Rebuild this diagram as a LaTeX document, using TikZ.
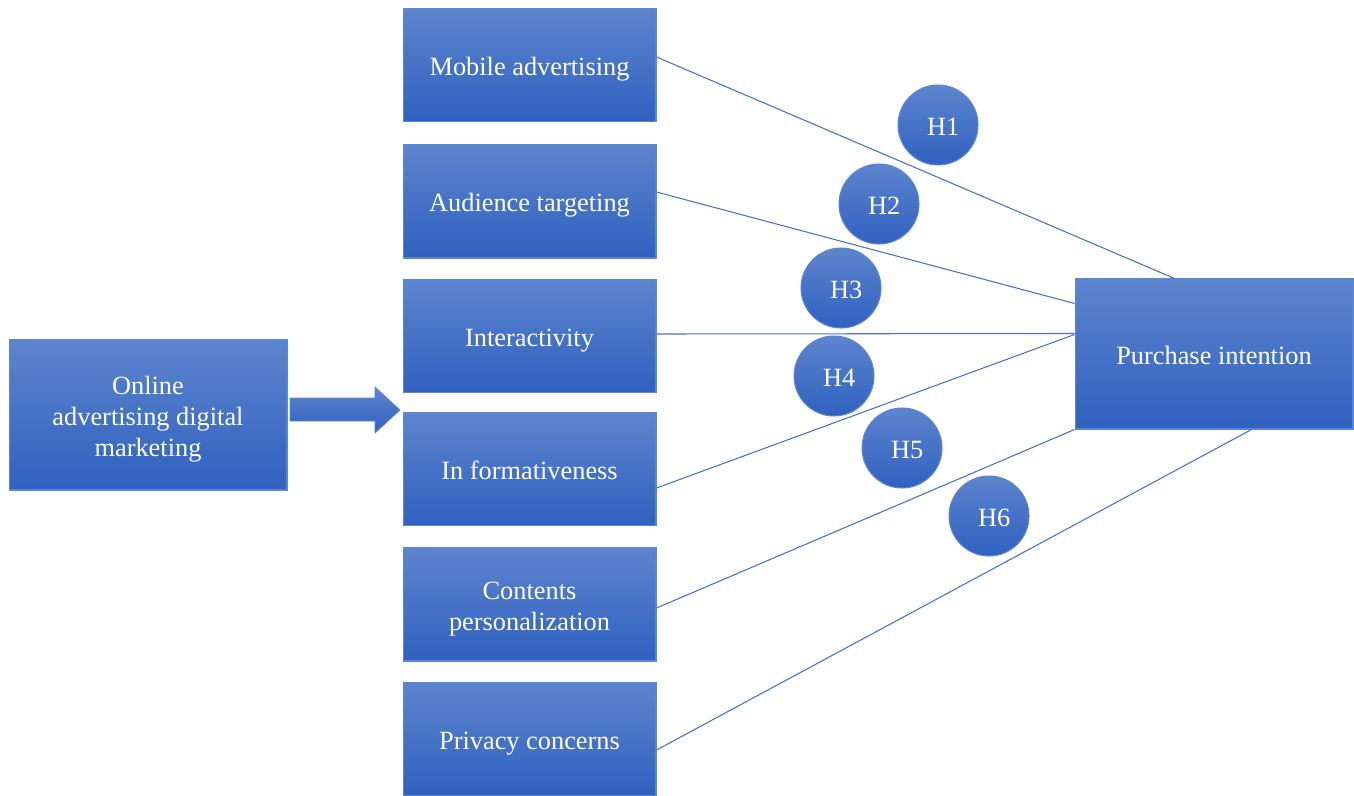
\documentclass[tikz,border=0pt]{standalone}
\usepackage{fontspec}
\setmainfont{Liberation Serif}
\usetikzlibrary{calc}
\definecolor{boxtop}{HTML}{5D84CE}
\definecolor{boxbot}{HTML}{2F61BF}
\definecolor{boxedge}{HTML}{5B86D2}
\definecolor{linkblue}{HTML}{4472C4}
% centred text block, set a little lower than its natural centre
\newcommand{\boxtext}[1]{\raisebox{-0.08cm}[\height][\depth]{%
  \renewcommand{\arraystretch}{1}\begin{tabular}{@{}c@{}}#1\end{tabular}}}
\begin{document}
\begin{tikzpicture}[x=0.02cm,y=-0.02cm,
  box/.style={rectangle, draw=boxedge, line width=0.6pt, top color=boxtop, bottom color=boxbot,
    text=white, font=\fontsize{15}{17.6}\selectfont, inner sep=0pt,
    minimum width=5.06cm, minimum height=2.26cm},
  bigbox/.style={box, minimum width=5.56cm, minimum height=3.0cm},
  hyp/.style={circle, draw=boxedge, line width=0.6pt, top color=boxtop, bottom color=boxbot,
    text=white, font=\fontsize{15}{17.6}\selectfont, inner sep=0pt, minimum size=1.6cm},
  link/.style={draw=linkblue, line width=0.6pt}]
\useasboundingbox (0,0) rectangle (1354,795);

% source construct
\node[bigbox] (onl) at (148,415) {\boxtext{Online\\advertising digital\\marketing}};

% block arrow into the factor column
\path[top color=boxtop, bottom color=boxbot, draw=boxedge, line width=0.4pt]
  (290,398) -- (375,398) -- (375,387) -- (400,410) -- (375,433) -- (375,421) -- (290,421) -- cycle;

% factor column
\node[box] (mob) at (529.5,65) {\boxtext{Mobile advertising}};
\node[box] (aud) at (529.5,201.5) {\boxtext{Audience targeting}};
\node[box] (int) at (529.5,336) {\boxtext{Interactivity}};
\node[box] (inf) at (529.5,469) {\boxtext{In formativeness}};
\node[box] (con) at (529.5,604.5) {\boxtext{Contents\\personalization}};
\node[box] (pri) at (529.5,739) {\boxtext{Privacy concerns}};

% outcome construct
\node[bigbox] (pur) at (1214,354) {\boxtext{Purchase intention}};

% hypothesis paths
\draw[link] ($(mob.east)+(0,-8)$) -- ($(pur.north west)+(100,0)$);
\draw[link] ($(aud.east)+(0,-9.5)$) -- ($(pur.north west)+(0,25)$);
\draw[link] ($(int.east)+(0,-2)$) -- ($(pur.north west)+(0,55)$);
\draw[link] ($(inf.east)+(0,19)$) -- ($(pur.north west)+(0,56)$);
\draw[link] ($(con.east)+(0,3.5)$) -- (pur.south west);
\draw[link] ($(pri.east)+(0,11)$) -- ($(pur.south west)+(177,0)$);

% hypothesis labels
\node[hyp] (h1) at (938,125) {\boxtext{\hspace{6pt}H1}};
\node[hyp] (h2) at (879,204) {\boxtext{\hspace{6pt}H2}};
\node[hyp] (h3) at (841,288) {\boxtext{\hspace{6pt}H3}};
\node[hyp] (h4) at (834,376) {\boxtext{\hspace{6pt}H4}};
\node[hyp] (h5) at (902,448) {\boxtext{\hspace{6pt}H5}};
\node[hyp] (h6) at (989,516) {\boxtext{\hspace{6pt}H6}};
\end{tikzpicture}
\end{document}
